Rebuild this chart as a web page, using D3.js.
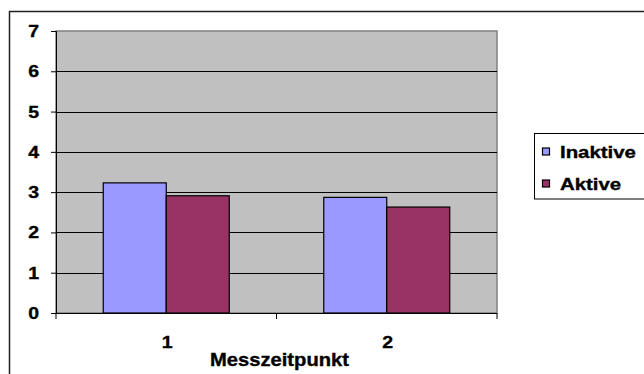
<!DOCTYPE html>
<html><head><meta charset="utf-8">
<script src="https://cdn.jsdelivr.net/npm/d3@7"></script>
<style>body{margin:0;background:#fff}svg{display:block}text{font-family:"Liberation Sans",Arial,sans-serif;font-weight:bold;fill:#000;stroke:#000;stroke-width:0.35}</style>
</head><body>
<script>
const categories = ["1", "2"];
const seriesNames = ["Inaktive", "Aktive"];
const inaktive = [3.23, 2.87];
const aktive = [2.91, 2.63];
const yTicks = [0, 1, 2, 3, 4, 5, 6, 7];
const xTitle = "Messzeitpunkt";
const colors = ["#9999FF", "#993366"];

const W = 644, H = 374;
const svg = d3.select("body").append("svg").attr("width", W).attr("height", H);
function label(g, x, y, txt, anchor, fs, sx) {
  return g.append("g").attr("transform", `translate(${x},${y}) scale(${sx},1)`)
    .append("text").attr("text-anchor", anchor || "start").attr("font-size", fs).text(txt);
}

// outer frame
svg.append("rect").attr("x", 9.5).attr("y", 11.5).attr("width", 700).attr("height", 400)
  .attr("fill", "none").attr("stroke", "#222").attr("stroke-width", 1.5);

const L = 56, R = 497, T = 31, B = 313;
const x0 = d3.scaleBand().domain(categories).range([L, R]);
const bw = x0.bandwidth() / 3.5;
const x1 = d3.scaleBand().domain(seriesNames).range([(x0.bandwidth() - 2 * bw) / 2, (x0.bandwidth() + 2 * bw) / 2]);
const y = d3.scaleLinear().domain([0, 7]).range([B, T]);

// plot area
svg.append("rect").attr("x", L).attr("y", T).attr("width", R - L).attr("height", B - T)
  .attr("fill", "#C0C0C0").attr("stroke", "#808080").attr("stroke-width", 1.5);

// gridlines
svg.append("g").selectAll("line").data(yTicks.filter(d => d > 0 && d < 7)).join("line")
  .attr("x1", L).attr("x2", R).attr("y1", d => Math.round(y(d)) + 0.5).attr("y2", d => Math.round(y(d)) + 0.5)
  .attr("stroke", "#000").attr("stroke-width", 1);

// bars
const data = categories.map((c, i) => ({ c, vals: [inaktive[i], aktive[i]] }));
const grp = svg.append("g").selectAll("g").data(data).join("g")
  .attr("transform", d => `translate(${x0(d.c)},0)`);
grp.selectAll("rect").data(d => d.vals.map((v, j) => ({ s: seriesNames[j], v, j }))).join("rect")
  .attr("x", d => x1(d.s)).attr("width", x1.bandwidth())
  .attr("y", d => y(d.v)).attr("height", d => B - y(d.v))
  .attr("fill", d => colors[d.j]).attr("stroke", "#000").attr("stroke-width", 1.2);

// axes
const yAxis = d3.axisLeft(y).tickValues(yTicks).tickSize(5).tickFormat("");
svg.append("g").attr("transform", `translate(${L},0)`).call(yAxis)
  .call(g => g.selectAll("path,line").attr("stroke", "#000"));
const xTickPos = [L, (L + R) / 2, R];
svg.append("line").attr("x1", L).attr("x2", R).attr("y1", B + 0.5).attr("y2", B + 0.5).attr("stroke", "#000");
svg.append("g").selectAll("line").data(xTickPos).join("line")
  .attr("x1", d => d).attr("x2", d => d).attr("y1", B).attr("y2", B + 6).attr("stroke", "#000");

// y labels
const yl = svg.append("g");
yTicks.forEach(t => label(yl, 39, y(t) + 6, String(t), "end", 16.5, 1.18));
// x labels
categories.forEach(c => label(svg, x0(c) + x0.bandwidth() / 2 + 1, 348, c, "middle", 17, 1.15));
label(svg, 279.5, 366, xTitle, "middle", 18, 1.12);

// legend
const lg = svg.append("g");
lg.append("rect").attr("x", 534.5).attr("y", 133.5).attr("width", 130).attr("height", 65.5)
  .attr("fill", "#fff").attr("stroke", "#000").attr("stroke-width", 1);
seriesNames.forEach((s, i) => {
  const cy = 152 + i * 32;
  lg.append("rect").attr("x", 542.5).attr("y", cy - 4).attr("width", 7).attr("height", 7)
    .attr("fill", colors[i]).attr("stroke", "#000").attr("stroke-width", 1.2);
  label(lg, 560, cy + 5.5, s, "start", 17, 1.2);
});
</script>
</body></html>
